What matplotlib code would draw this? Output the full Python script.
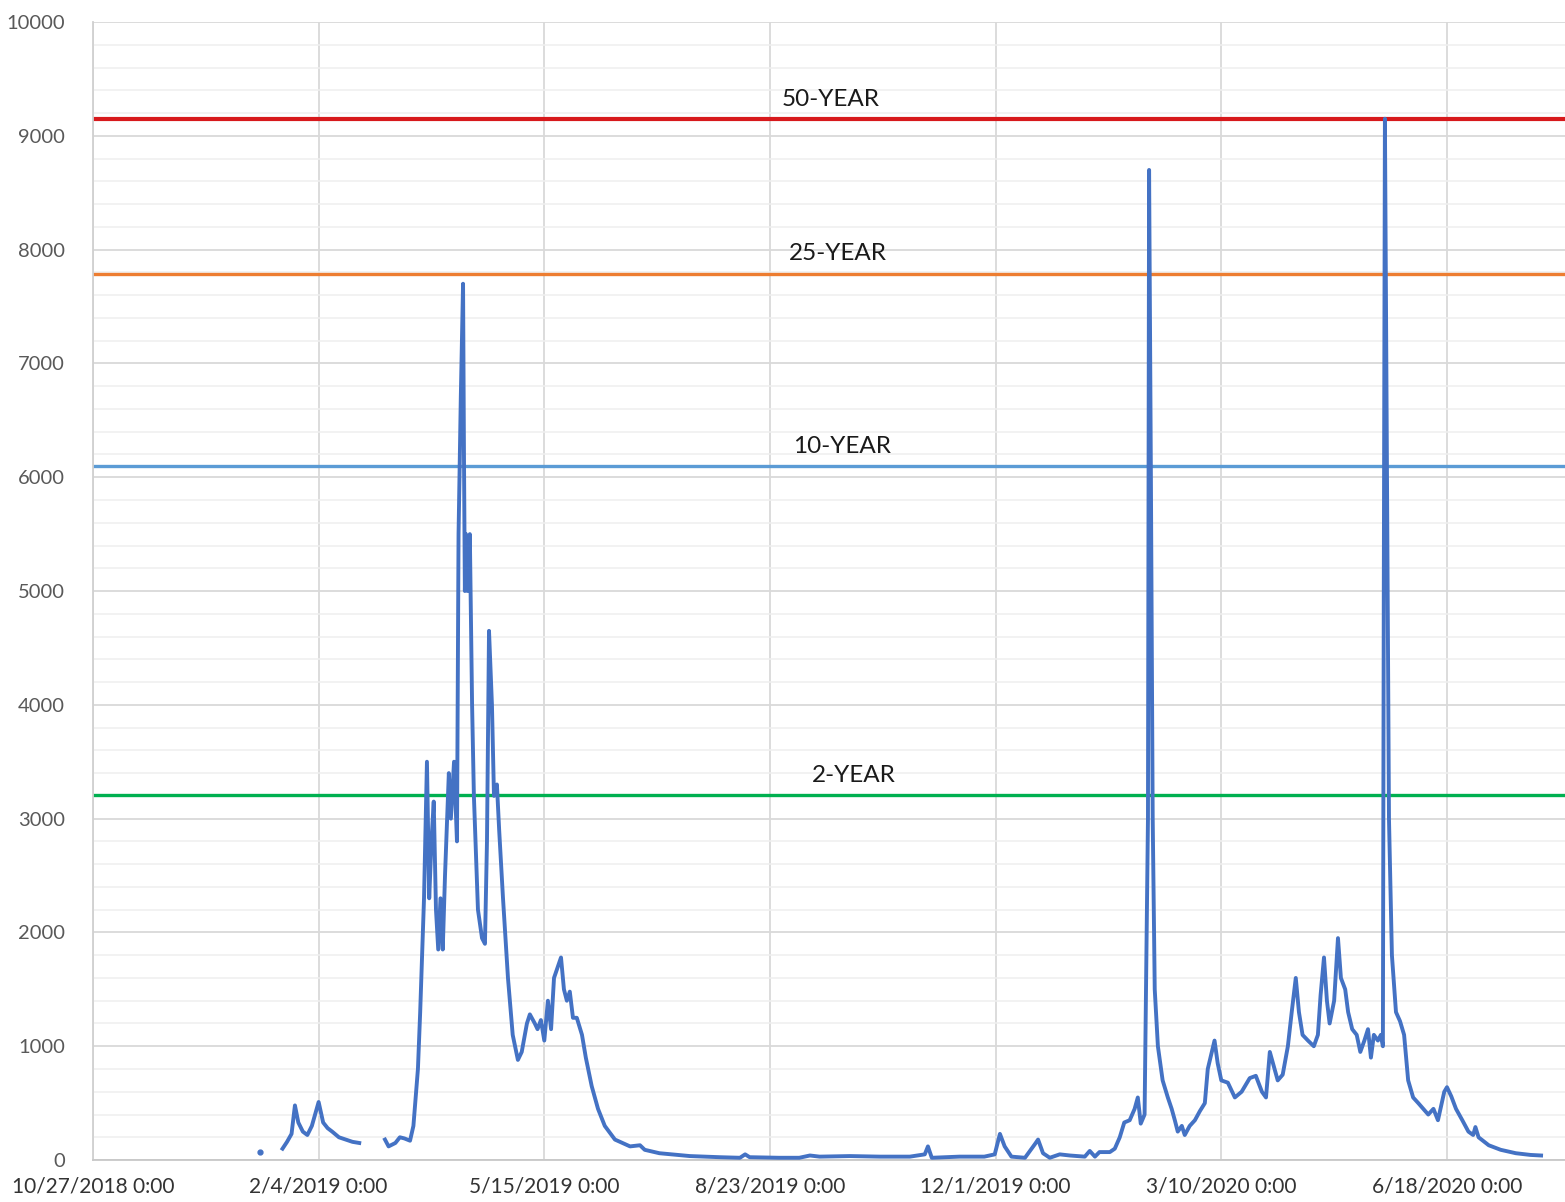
import matplotlib
matplotlib.use("Agg")
import matplotlib.pyplot as plt
from matplotlib.ticker import FuncFormatter, MultipleLocator
import matplotlib.dates as mdates
import numpy as np
import datetime as dt

plt.rcParams['font.family'] = ['Lato', 'DejaVu Sans']

start_date = dt.datetime(2018, 10, 27)

# flow record: days after start_date and value (nan = gap in record)
day_offset = [84, 86, 88, 89.5, 91, 93, 95, 97, 100, 102, 104, 106, 109, 112, 115, 118,
              120,
              129.4, 131, 134, 136, 138, 140.5, 142, 144, 145, 146.7, 148, 149, 150, 151,
              152, 153, 154, 155, 156, 157.7, 158.6, 160, 161.3, 162, 163, 164, 164.4,
              164.8, 165.3, 166, 167, 168, 168.8, 170.6, 172.4, 173.7, 174.6, 175.5,
              176.8, 177.7, 179, 180, 181.7, 183.9, 186, 188.3, 190, 192.3, 193.6, 195.8,
              197, 198.5, 200, 201.6, 203, 204.3, 206, 207.4, 208.7, 210, 211.3, 212.7,
              214.4, 216.7, 218.4, 221, 223.8, 226.8, 231.3, 238, 242.4, 244.5, 251,
              264.5, 277.8, 286.7, 289, 291, 304, 313, 317.7, 322, 335.4, 348.7, 362,
              368.6, 370, 371.7, 384, 395, 399.6, 401.9, 404, 407, 413, 417.4, 418.8,
              421, 424, 428.4, 432.9, 439.5, 441.7, 444, 446, 450.6, 452.8, 455, 457,
              459.4, 461.6, 463, 464.3, 466, 467.5, 468, 468.8, 469.6, 470.5, 471.9, 474,
              476.3, 478, 479.4, 480.7, 482.5, 483.8, 486, 488.3, 490.5, 492.7, 494,
              495.8, 497, 498.4, 500, 502.9, 506, 509, 512.6, 515.3, 518, 519.8, 521.5,
              522.9, 525, 527.2, 529.5, 531.2, 533, 534.4, 536, 538.4, 541, 542.8, 544,
              545.5, 546.8, 548, 550, 551.7, 553, 554.9, 556.2, 558, 560, 561.6, 563.4,
              565, 566.3, 567.6, 569.4, 570.7, 571.6, 572, 572.5, 573.4, 574.3, 575.6,
              577.4, 579.2, 581, 582.8, 585, 587.3, 589.5, 591.7, 594, 596, 598.8, 600,
              601.9, 604, 606.8, 609.5, 611.6, 612.6, 614, 618.5, 623.8, 630.5, 637,
              641.7]
flow = [100, 160, 230, 480, 330, 250, 220, 300, 510, 330, 280, 250, 200, 180, 160, 150,
        np.nan,
        180, 120, 150, 200, 190, 170, 300, 800, 1300, 2300, 3500, 2300, 2800, 3150,
        2200, 1850, 2300, 1850, 2500, 3400, 3000, 3500, 2800, 5500, 6700, 7700, 6200,
        5000, 5500, 5000, 5500, 4000, 3200, 2200, 1950, 1900, 2800, 4650,
        4000, 3200, 3300, 2900, 2300, 1600, 1100, 880, 950, 1200, 1280, 1200,
        1150, 1230, 1050, 1400, 1150, 1600, 1700, 1780, 1500, 1400, 1480, 1250,
        1250, 1100, 900, 650, 450, 300, 180, 120, 130, 90, 60,
        35, 25, 20, 50, 25, 20, 20, 40, 30, 35, 30, 30,
        50, 120, 20, 30, 30, 50, 230, 120, 30, 20, 140, 180,
        60, 20, 50, 40, 30, 80, 30, 70, 70, 100, 200, 330,
        350, 450, 550, 320, 400, 3000, 8700, 6000, 3000, 1500, 1000, 700,
        550, 450, 350, 250, 300, 220, 300, 350, 430, 500, 800,
        950, 1050, 850, 700, 680, 550, 600, 720, 740, 600, 550, 950,
        850, 700, 750, 1000, 1300, 1600, 1300, 1100, 1050, 1000, 1100, 1450,
        1780, 1400, 1200, 1400, 1950, 1600, 1500, 1300, 1150, 1100, 950, 1050,
        1150, 900, 1100, 1050, 1100, 1000, 5000, 9150, 6000, 3000, 1800,
        1300, 1220, 1100, 700, 550, 500, 450, 400, 450, 350, 600, 640,
        560, 450, 350, 250, 220, 290, 200, 130, 90, 60, 45,
        40]
lone_day = 74
lone_flow = 70

return_periods = ['50-YEAR', '25-YEAR', '10-YEAR', '2-YEAR']
return_flows = [9150, 7790, 6100, 3210]
return_colors = ['#D7191C', '#ED7D31', '#5B9BD5', '#00B050']
label_days = [327, 330, 332, 337]

x = [start_date + dt.timedelta(days=d) for d in day_offset]

fig = plt.figure(figsize=(15.65, 12.02), dpi=100)
ax = fig.add_axes([0.0594, 0.0349, 0.9406, 0.9468])

# grid
ax.yaxis.set_major_locator(MultipleLocator(1000))
ax.yaxis.set_minor_locator(MultipleLocator(200))
ticks = [start_date + dt.timedelta(days=100 * k) for k in range(7)]
ax.set_xticks(ticks)
ax.grid(True, which='major', axis='both', color='#D9D9D9', linewidth=1.3)
ax.grid(True, which='minor', axis='y', color='#EFEFEF', linewidth=1.1)
ax.set_axisbelow(True)

for name, val, col, ld in zip(return_periods, return_flows, return_colors, label_days):
    lw = 3.0 if name == '50-YEAR' else 2.4
    ax.axhline(val, color=col, linewidth=lw, zorder=2)
    ax.text(start_date + dt.timedelta(days=ld), val + 80, name, ha='center', va='bottom',
            fontsize=17.5, color='#1a1a1a', zorder=4)

ax.plot(x, flow, color='#4472C4', linewidth=2.8, zorder=3, solid_joinstyle='round')
ax.plot([start_date + dt.timedelta(days=lone_day)], [lone_flow], 'o', color='#4472C4',
        markersize=3.5, zorder=3)

ax.set_xlim(start_date, start_date + dt.timedelta(days=652.3))
ax.set_ylim(0, 10000)

ax.xaxis.set_major_formatter(FuncFormatter(
    lambda v, p: (lambda d: f"{d.month}/{d.day}/{d.year} 0:00")(mdates.num2date(v))))
ax.tick_params(axis='y', which='both', length=0, pad=20, labelsize=14.5, labelcolor='#595959')
ax.tick_params(axis='x', which='both', length=0, pad=12, labelsize=15, labelcolor='#333333')

for s in ['top', 'right']:
    ax.spines[s].set_visible(False)
ax.spines['left'].set_color('#D0D0D0')
ax.spines['bottom'].set_color('#C8C8C8')
ax.spines['left'].set_linewidth(1.3)
ax.spines['bottom'].set_linewidth(1.3)

fig.savefig('out.png', dpi=100)
